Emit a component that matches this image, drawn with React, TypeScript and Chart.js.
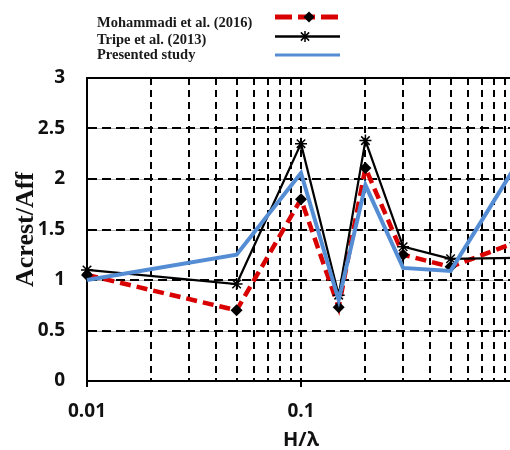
import React, { useEffect, useRef } from 'react';
import { Chart, registerables } from 'chart.js';

Chart.register(...registerables);

// ---- data ----
const xValues = [0.01, 0.05, 0.1, 0.15, 0.2, 0.3, 0.5, 1];
const mohammadi = [1.05, 0.70, 1.80, 0.73, 2.11, 1.25, 1.13, 1.37];
const tripe = [1.10, 0.96, 2.35, 0.85, 2.38, 1.33, 1.21, 1.22];
const presented = [1.00, 1.25, 2.06, 0.80, 1.94, 1.12, 1.09, 2.12];
const seriesNames = ['Mohammadi et al. (2016)', 'Tripe et al. (2013)', 'Presented study'];
const xTickValues = [
  0.01, 0.02, 0.03, 0.04, 0.05, 0.06, 0.07, 0.08, 0.09,
  0.1, 0.2, 0.3, 0.4, 0.5, 0.6, 0.7, 0.8, 0.9, 1,
];
const xLabelValues = [0.01, 0.1, 1];
const yTitle = 'Acrest/Aff';
const xTitle = 'H/λ';

const RED = '#d90000';
const BLUE = '#548dd4';
const BLACK = '#000000';

const toPoints = (ys: number[]) => xValues.map((x, i) => ({ x, y: ys[i] }));

const isDecade = (v: number) => xLabelValues.some((d) => Math.abs(d - v) < 1e-9);

function drawDiamond(ctx: CanvasRenderingContext2D, x: number, y: number, r: number) {
  ctx.beginPath();
  ctx.moveTo(x, y - r);
  ctx.lineTo(x + r, y);
  ctx.lineTo(x, y + r);
  ctx.lineTo(x - r, y);
  ctx.closePath();
  ctx.fill();
}

function drawStar(ctx: CanvasRenderingContext2D, x: number, y: number, r: number) {
  const d = r * 0.75;
  ctx.beginPath();
  ctx.moveTo(x, y - r);
  ctx.lineTo(x, y + r);
  ctx.moveTo(x - d, y - d);
  ctx.lineTo(x + d, y + d);
  ctx.moveTo(x - d, y + d);
  ctx.lineTo(x + d, y - d);
  ctx.stroke();
}

const bgGridPlugin = {
  id: 'bgGrid',
  beforeDraw(chart: any) {
    const { ctx, chartArea, scales } = chart;
    ctx.save();
    ctx.strokeStyle = '#b0b0b0';
    ctx.lineWidth = 1;
    for (let v = 0.5; v < 3; v += 0.5) {
      const y = Math.round(scales.y.getPixelForValue(v)) + 0.5;
      ctx.beginPath();
      ctx.moveTo(chartArea.left, y);
      ctx.lineTo(chartArea.right, y);
      ctx.stroke();
    }
    ctx.restore();
  },
};

const legendPlugin = {
  id: 'sideLegend',
  afterDraw(chart: any) {
    const ctx = chart.ctx as CanvasRenderingContext2D;
    ctx.save();
    ctx.font = 'bold 14.5px "Liberation Serif"';
    ctx.fillStyle = '#1a1a1a';
    ctx.textBaseline = 'alphabetic';
    ctx.textAlign = 'left';
    const baselines = [19, 36, 51];
    seriesNames.forEach((n, i) => ctx.fillText(n, 89, baselines[i]));

    const x0 = 267;
    const x1 = 332;
    // red dashed with diamond
    ctx.strokeStyle = RED;
    ctx.lineWidth = 5;
    ctx.setLineDash([17, 6]);
    ctx.beginPath();
    ctx.moveTo(x0, 9);
    ctx.lineTo(x1, 9);
    ctx.stroke();
    ctx.setLineDash([]);
    ctx.fillStyle = BLACK;
    drawDiamond(ctx, 301, 9, 5.5);
    // black with star
    ctx.strokeStyle = BLACK;
    ctx.lineWidth = 2.5;
    ctx.beginPath();
    ctx.moveTo(x0, 28.5);
    ctx.lineTo(x1, 28.5);
    ctx.stroke();
    ctx.lineWidth = 1.5;
    drawStar(ctx, 297, 28.5, 5.5);
    // blue
    ctx.strokeStyle = BLUE;
    ctx.lineWidth = 3;
    ctx.beginPath();
    ctx.moveTo(x0, 47);
    ctx.lineTo(x1, 47);
    ctx.stroke();
    ctx.restore();
  },
};

export default function App() {
  const canvasRef = useRef<HTMLCanvasElement | null>(null);

  useEffect(() => {
    if (!canvasRef.current) return;
    const tickFont = { family: '"Open Sans"', size: 19, weight: 'bold' as const };
    const chart = new Chart(canvasRef.current, {
      type: 'line',
      data: {
        datasets: [
          {
            label: seriesNames[2],
            data: toPoints(presented),
            borderColor: BLUE,
            backgroundColor: BLUE,
            borderWidth: 4,
            pointRadius: 0,
            tension: 0,
            clip: false as any,
            order: 0,
          },
          {
            label: seriesNames[1],
            data: toPoints(tripe),
            borderColor: BLACK,
            backgroundColor: BLACK,
            borderWidth: 2.2,
            pointStyle: 'star',
            pointRadius: 6,
            pointBorderWidth: 1.5,
            pointBorderColor: BLACK,
            tension: 0,
            clip: false as any,
            order: 1,
          },
          {
            label: seriesNames[0],
            data: toPoints(mohammadi),
            borderColor: RED,
            backgroundColor: BLACK,
            borderWidth: 4.5,
            borderDash: [11, 6],
            pointStyle: 'rectRot',
            pointRadius: 6,
            pointBorderWidth: 0,
            pointBackgroundColor: BLACK,
            tension: 0,
            clip: false as any,
            order: 2,
          },
        ],
      },
      options: {
        responsive: false,
        animation: false,
        layout: { padding: { top: 70, right: 23, left: 0, bottom: 0 } },
        plugins: {
          legend: { display: false },
          tooltip: { enabled: false },
        },
        scales: {
          x: {
            type: 'logarithmic',
            min: 0.01,
            max: 1,
            afterBuildTicks: (scale: any) => {
              scale.ticks = xTickValues.map((v) => ({ value: v }));
            },
            afterFit: (scale: any) => {
              scale.height = 69;
            },
            ticks: {
              autoSkip: false,
              maxRotation: 0,
              minRotation: 0,
              padding: 13,
              color: '#111',
              font: tickFont,
              callback: (v: any) => {
                const n = Number(v);
                if (!isDecade(n)) return '';
                return n === 1 ? '1' : String(n);
              },
            },
            grid: {
              color: BLACK,
              lineWidth: 2,
              drawTicks: true,
              tickLength: 6,
              tickWidth: 2,
              tickBorderDash: [],
              tickColor: (ctx: any) =>
                ctx.tick && isDecade(ctx.tick.value) ? BLACK : 'rgba(0,0,0,0)',
            },
            border: {
              display: true,
              color: BLACK,
              width: 2,
              dash: [7, 5],
            },
            title: {
              display: true,
              text: xTitle,
              color: '#111',
              font: { family: '"Open Sans"', size: 20, weight: 'bold', lineHeight: 1 },
              padding: { top: 0, bottom: 0 },
            },
          },
          y: {
            min: 0,
            max: 3,
            afterFit: (scale: any) => {
              scale.width = 79;
            },
            ticks: {
              stepSize: 0.5,
              padding: 22,
              color: '#111',
              font: tickFont,
              callback: (v: any) => String(Number(v)),
            },
            grid: {
              color: (ctx: any) =>
                ctx.tick && ctx.tick.value === 0 ? 'rgba(0,0,0,0)' : BLACK,
              lineWidth: 2,
              drawTicks: false,
            },
            border: {
              display: true,
              color: BLACK,
              width: 2,
              dash: (ctx: any) => (ctx.tick && ctx.tick.value === 3 ? [] : [9, 5]),
            },
            title: {
              display: true,
              text: yTitle,
              color: '#111',
              font: { family: '"Liberation Serif"', size: 26, weight: 'bold', lineHeight: 1 },
              padding: { top: 5, bottom: 0 },
            },
          },
        },
      },
      plugins: [bgGridPlugin, legendPlugin],
    } as any);
    return () => chart.destroy();
  }, []);

  return (
    <div
      style={{
        position: 'fixed',
        left: 0,
        top: 0,
        width: 510,
        height: 450,
        overflow: 'hidden',
        background: '#fff',
      }}
    >
      <canvas
        ref={canvasRef}
        width={530}
        height={442}
        style={{ display: 'block', position: 'absolute', left: 8, top: 8 }}
      />
    </div>
  );
}
